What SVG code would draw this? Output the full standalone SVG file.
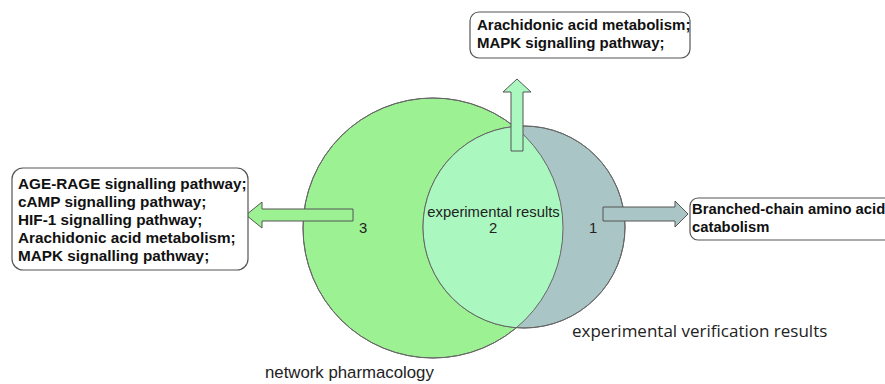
<svg xmlns="http://www.w3.org/2000/svg" width="885" height="384" viewBox="0 0 885 384">
<style>
.box{fill:#fff;stroke:#555;stroke-width:1.2}
.bt{font-family:"Liberation Sans",Arial,sans-serif;font-weight:bold;fill:#111}
.lbl{font-family:"Liberation Sans",Arial,sans-serif;font-size:14.8px;fill:#222}
.arr{stroke:#555;stroke-width:1}
.circ{stroke:#666;stroke-width:1}
</style>
<defs>
<clipPath id="bigClip"><circle cx="433" cy="228" r="130"/></clipPath>
</defs>
<g id="venn">
<circle id="network" class="circ" cx="433" cy="228" r="130" fill="#9cf193"/>
<circle id="experimental" class="circ" cx="524" cy="227" r="101" fill="#a9c5c5"/>
<circle id="overlap" cx="524" cy="227" r="101" fill="#aaf8c0" clip-path="url(#bigClip)"/>
<circle class="circ" cx="433" cy="228" r="130" fill="none"/>
<circle class="circ" cx="524" cy="227" r="101" fill="none"/>
</g>
<g id="connectors">
<polygon class="arr" fill="#9cf193" points="353,209 262,209 262,202 246,215 262,228 262,221 353,221"/>
<polygon class="arr" fill="#aaf8c0" points="511,151 511,92 503,92 517,79 531,92 523,92 523,151"/>
<polygon class="arr" fill="#a9c5c5" points="603,207 675,207 675,201 688,214 675,227 675,221 603,221"/>
</g>
<g id="box-left">
<rect class="box" x="12" y="168" width="236" height="102" rx="11"/>
<g class="bt" font-size="15.3">
<text x="18" y="189">AGE-RAGE signalling pathway;</text>
<text x="18" y="207">cAMP signalling pathway;</text>
<text x="18" y="225">HIF-1 signalling pathway;</text>
<text x="18" y="243">Arachidonic acid metabolism;</text>
<text x="18" y="261">MAPK signalling pathway;</text>
</g>
</g>
<g id="box-top">
<rect class="box" x="470" y="12" width="220" height="46" rx="9"/>
<g class="bt" font-size="15">
<text x="477" y="30">Arachidonic acid metabolism;</text>
<text x="477" y="48">MAPK signalling pathway;</text>
</g>
</g>
<g id="box-right">
<rect class="box" x="690" y="198" width="210" height="42" rx="8"/>
<g class="bt" font-size="14.8">
<text x="692" y="214">Branched-chain amino acid</text>
<text x="692" y="232">catabolism</text>
</g>
</g>
<g id="labels">
<text class="lbl" x="493.5" y="217" text-anchor="middle">experimental results</text>
<text class="lbl" x="493" y="233" text-anchor="middle">2</text>
<text class="lbl" x="363" y="233" text-anchor="middle">3</text>
<text class="lbl" x="593" y="233" text-anchor="middle">1</text>
<text x="572" y="337" font-family="'Open Sans','Noto Sans',sans-serif" font-size="17" fill="#222">experimental verification results</text>
<text x="265" y="378" font-family="'Liberation Sans',Arial,sans-serif" font-size="16.8" fill="#222">network pharmacology</text>
</g>
</svg>
